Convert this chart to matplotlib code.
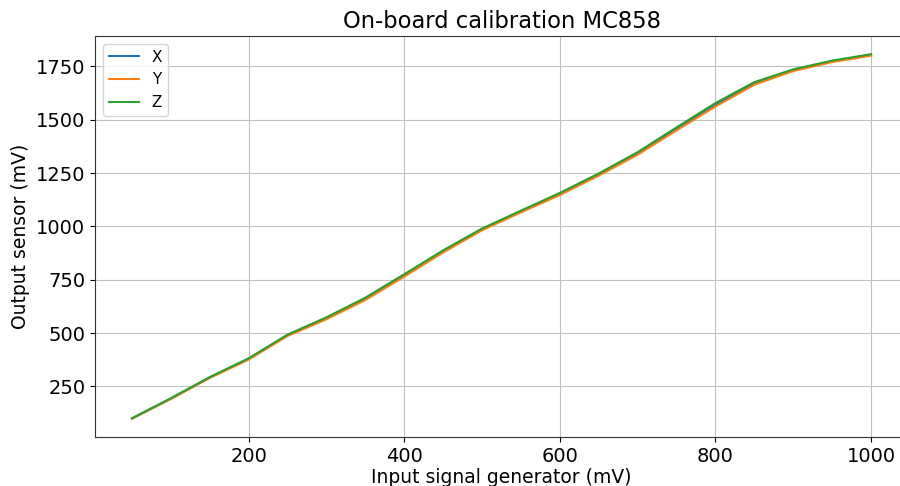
import numpy as np
import matplotlib
matplotlib.use("Agg")
import matplotlib.pyplot as plt

# input signal (mV)
entrada = [50, 100, 150, 200, 250, 300, 350, 400, 450, 500,
           550, 600, 650, 700, 750, 800, 850, 900, 950, 1000]

# sensor output per axis (mV)
saida_x = [100, 193, 292, 380, 490, 570, 660, 770, 883, 987,
           1070, 1153, 1244, 1342, 1458, 1570, 1670, 1732, 1774, 1804]
saida_y = [99, 191, 290, 376, 487, 565, 655, 765, 878, 982,
           1066, 1147, 1238, 1336, 1450, 1562, 1664, 1728, 1770, 1800]
saida_z = [101, 195, 294, 382, 493, 574, 666, 776, 888, 990,
           1074, 1157, 1248, 1348, 1464, 1578, 1676, 1736, 1777, 1807]

fig = plt.figure(figsize=(9, 4.86), dpi=100)
ax = fig.add_axes([0.1056, 0.101, 0.9033, 0.825])

ax.plot(entrada, saida_x, label="X")
ax.plot(entrada, saida_y, label="Y")
ax.plot(entrada, saida_z, label="Z")

ax.set_title("On-board calibration MC858", fontsize=16.3)
ax.set_xlabel("Input signal generator (mV)", fontsize=13.5, labelpad=2)
ax.set_ylabel("Output sensor (mV)", fontsize=13.5)
ax.tick_params(labelsize=14)
ax.set_yticks([250, 500, 750, 1000, 1250, 1500, 1750])
ax.grid(True, color="#c0c0c0")
for s in ax.spines.values():
    s.set_color("#333333")
ax.legend(loc="upper left", fontsize=11)

plt.savefig("out.png", dpi=100)
